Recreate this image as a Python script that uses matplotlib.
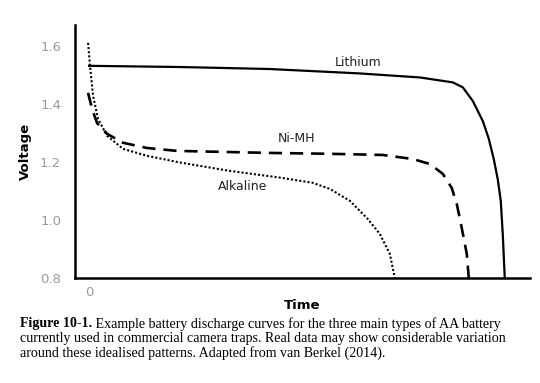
import matplotlib
matplotlib.use("Agg")
import matplotlib.pyplot as plt

# time in arbitrary units, voltage in V
lithium_t = [0, 90, 181, 270, 331, 364, 374, 384, 394, 400, 405, 409, 412, 414, 416]
lithium_v = [1.531, 1.527, 1.52, 1.505, 1.491, 1.474, 1.457, 1.41, 1.341, 1.28, 1.21, 1.14, 1.066, 0.952, 0.8]

nimh_t = [-1, 3, 8, 18, 34, 58, 88, 181, 241, 294, 324, 341, 354, 363, 366, 368, 373, 378, 380]
nimh_v = [1.438, 1.383, 1.334, 1.297, 1.266, 1.248, 1.238, 1.231, 1.228, 1.224, 1.21, 1.193, 1.159,
          1.11, 1.076, 1.055, 0.972, 0.883, 0.8]

alk_t = [-1, 1, 4, 9, 18, 34, 58, 91, 141, 191, 224, 241, 261, 278, 291, 301, 306]
alk_v = [1.61, 1.531, 1.428, 1.348, 1.29, 1.245, 1.221, 1.198, 1.169, 1.146, 1.128, 1.107, 1.066,
         1.007, 0.952, 0.883, 0.8]

labels = ["Lithium", "Ni-MH", "Alkaline"]
label_pos = [(269, 1.541), (208, 1.279), (154, 1.114)]

y_ticks = [0.8, 1.0, 1.2, 1.4, 1.6]
x_ticks = [0]

caption_bold = "Figure 10-1."
caption_lines = [
    " Example battery discharge curves for the three main types of AA battery",
    "currently used in commercial camera traps. Real data may show considerable variation",
    "around these idealised patterns. Adapted from van Berkel (2014).",
]

fig = plt.figure(figsize=(5.4, 3.83), dpi=100)
ax = fig.add_axes([0.139, 0.274, 0.842, 0.661])

ax.plot(lithium_t, lithium_v, color="black", lw=1.6, solid_joinstyle="round")
ax.plot(nimh_t, nimh_v, color="black", lw=1.9, linestyle=(0, (5, 3)))
ax.plot(alk_t, alk_v, color="black", lw=1.5, linestyle=(0, (1, 1)))

for text, (x, y) in zip(labels, label_pos):
    ax.text(x, y, text, ha="center", va="center", fontsize=9, color="#222222")

ax.set_xlim(-14, 441)
ax.set_ylim(0.8, 1.672)
ax.set_yticks(y_ticks)
ax.set_yticklabels([f"{v:.1f}" for v in y_ticks])
ax.set_xticks(x_ticks)
ax.tick_params(length=0, labelsize=9.5, labelcolor="#999999", pad=10)
ax.tick_params(axis="x", pad=6)
for side in ["top", "right"]:
    ax.spines[side].set_visible(False)
for side in ["left", "bottom"]:
    ax.spines[side].set_linewidth(1.8)
ax.set_ylabel("Voltage", fontsize=9.5, fontweight="bold", labelpad=6)
ax.set_xlabel("Time", fontsize=9.5, fontweight="bold", labelpad=0)

# caption: pick a size so the second line spans about 488 px like the original
fig.canvas.draw()
renderer = fig.canvas.get_renderer()
serif = "Liberation Serif"
probe = fig.text(0, 0, caption_lines[1], fontsize=10, family=serif)
width = probe.get_window_extent(renderer).width
probe.remove()
fs = 10 * 488 / width

t0 = fig.text(20 / 540, 1 - 324 / 383, caption_bold, fontsize=fs, family=serif,
              fontweight="bold", va="center")
bb = t0.get_window_extent(renderer)
fig.text(bb.x1 / fig.bbox.width, 1 - 324 / 383, caption_lines[0], fontsize=fs,
         family=serif, va="center")
for i, line in enumerate(caption_lines[1:]):
    fig.text(20 / 540, 1 - (338.5 + 14.5 * i) / 383, line, fontsize=fs,
             family=serif, va="center")

fig.savefig("out.png", dpi=100)
